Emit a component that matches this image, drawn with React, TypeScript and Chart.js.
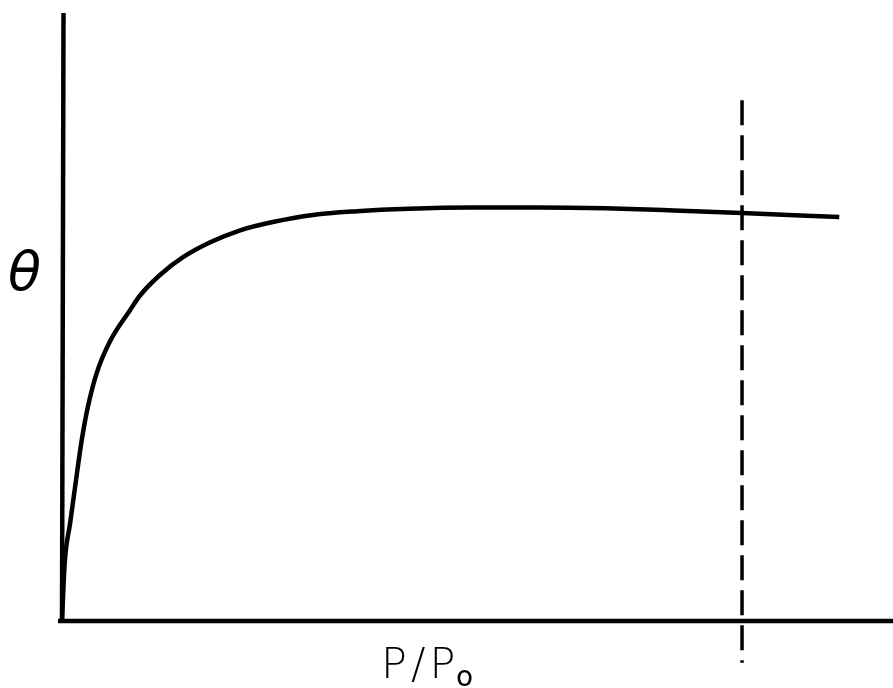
import React, { useEffect, useRef } from "react";
import { Chart, registerables } from "chart.js";

Chart.register(...registerables);

// Relative pressure P/P0 (dashed line marks P/P0 = 1)
const pValues = [0, 0.004, 0.012, 0.022, 0.029, 0.038, 0.051, 0.071, 0.1, 0.115, 0.144, 0.178, 0.218, 0.262, 0.31, 0.369, 0.434, 0.51, 0.6, 0.7, 0.8, 0.9, 1.0, 1.143];
// Fractional coverage theta
const thetaValues = [0, 0.14, 0.237, 0.357, 0.437, 0.517, 0.599, 0.677, 0.751, 0.787, 0.836, 0.879, 0.915, 0.944, 0.964, 0.981, 0.99, 0.996, 0.999, 0.999, 0.997, 0.992, 0.986, 0.976];
const xRange = [0, 1.222];
const yRange = [0, 1.469];
const saturationP = 1.0;
const dashedThetaRange = [-0.101, 1.258];
const xLabel = "P/P";
const xLabelSub = "o";
const yLabel = "θ";

const decorPlugin = {
  id: "decor",
  afterDatasetsDraw(chart: any) {
    const { ctx } = chart;
    const xs = chart.scales.x;
    const ys = chart.scales.y;
    const x0 = xs.getPixelForValue(0);
    const y0 = ys.getPixelForValue(0);
    const yTop = ys.getPixelForValue(yRange[1]);
    const xRight = xs.getPixelForValue(xRange[1]);
    ctx.save();
    ctx.strokeStyle = "#000";
    ctx.lineCap = "butt";
    // y axis
    ctx.lineWidth = 4.5;
    ctx.beginPath();
    ctx.moveTo(x0 + 1.5, yTop);
    ctx.lineTo(x0, y0 + 2);
    ctx.stroke();
    // x axis
    ctx.beginPath();
    ctx.moveTo(x0 - 4, y0);
    ctx.lineTo(xRight, y0);
    ctx.stroke();
    // dashed line at P/P0 = 1
    const xd = xs.getPixelForValue(saturationP);
    ctx.lineWidth = 3.5;
    ctx.setLineDash([25, 10]);
    ctx.beginPath();
    ctx.moveTo(xd, ys.getPixelForValue(dashedThetaRange[1]));
    ctx.lineTo(xd, ys.getPixelForValue(dashedThetaRange[0]));
    ctx.stroke();
    ctx.setLineDash([]);
    // labels
    ctx.fillStyle = "#000";
    ctx.textBaseline = "alphabetic";
    ctx.textAlign = "left";
    ctx.font = 'italic 300 54px "DejaVu Sans"';
    ctx.fillText(yLabel, 8, 290);
    ctx.font = '300 43px "DejaVu Sans"';
    (ctx as any).letterSpacing = "4px";
    ctx.fillText(xLabel, 381, 678);
    (ctx as any).letterSpacing = "0px";
    ctx.font = '500 28px "DejaVu Sans"';
    ctx.fillText(xLabelSub, 456, 686);
    ctx.restore();
  },
};

export default function App() {
  const ref = useRef<HTMLCanvasElement | null>(null);
  useEffect(() => {
    document.body.style.margin = "0";
    const canvas = ref.current!;
    const chart = new Chart(canvas, {
      type: "line",
      data: {
        datasets: [
          {
            data: pValues.map((p, i) => ({ x: p, y: thetaValues[i] })),
            borderColor: "#000",
            borderWidth: 4.5,
            pointRadius: 0,
            cubicInterpolationMode: "monotone",
            fill: false,
            clip: false as any,
          },
        ],
      },
      options: {
        animation: false,
        responsive: false,
        maintainAspectRatio: false,
        layout: { padding: { left: 62, right: 0, top: 13, bottom: 67 } },
        plugins: { legend: { display: false }, tooltip: { enabled: false } },
        scales: {
          x: { type: "linear", display: false, min: xRange[0], max: xRange[1] },
          y: { type: "linear", display: false, min: yRange[0], max: yRange[1] },
        },
      },
      plugins: [decorPlugin],
    });
    return () => chart.destroy();
  }, []);
  return (
    <div style={{ width: 893, height: 688, background: "#fff" }}>
      <canvas ref={ref} width={893} height={688} style={{ display: "block" }} />
    </div>
  );
}
